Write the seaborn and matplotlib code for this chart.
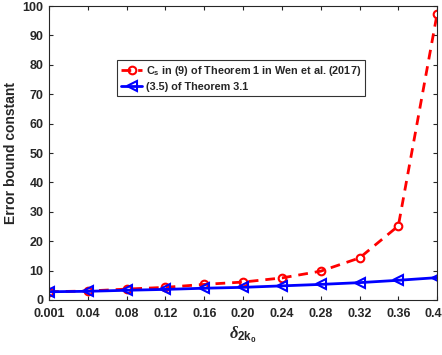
import numpy as np
import pandas as pd
import matplotlib
matplotlib.use("Agg")
import matplotlib.pyplot as plt
import seaborn as sns

delta_labels = ["0.001", "0.04", "0.08", "0.12", "0.16", "0.20", "0.24", "0.28", "0.32", "0.36", "0.40"]
wen_values = [2.8, 3.05, 3.7, 4.3, 5.3, 6.1, 7.5, 9.8, 14.3, 25.2, 97.4]
thm_values = [2.8, 2.95, 3.3, 3.6, 4.0, 4.3, 4.8, 5.3, 5.9, 6.7, 7.6]
series_names = [r"C$_{\mathregular{s}}$ in (9) of Theorem 1 in Wen et al. (2017)", "(3.5) of Theorem 3.1"]

sns.set_theme(style="ticks")
plt.rcParams["font.family"] = ["Liberation Sans", "DejaVu Sans"]
plt.rcParams["font.weight"] = "bold"
plt.rcParams["mathtext.default"] = "regular"
plt.rcParams["mathtext.fontset"] = "custom"
plt.rcParams["mathtext.it"] = "Liberation Serif:italic"
plt.rcParams["mathtext.bf"] = "Liberation Sans:bold"
plt.rcParams["mathtext.rm"] = "Liberation Sans"

pos = np.arange(len(delta_labels))
df = pd.DataFrame({
    "pos": np.concatenate([pos, pos]),
    "value": wen_values + thm_values,
    "series": [series_names[0]] * len(pos) + [series_names[1]] * len(pos),
})

fig = plt.figure(figsize=(4.42, 3.55), dpi=100)
ax = fig.add_axes([0.111, 0.155, 0.878, 0.828])

sns.lineplot(data=df[df.series == series_names[0]], x="pos", y="value", ax=ax,
             color="#ff0000", linestyle=(0, (3.5, 2.5)), linewidth=2, marker="o", markersize=5.5,
             markerfacecolor="none", markeredgecolor="#ff0000", markeredgewidth=1.5,
             label=series_names[0])
sns.lineplot(data=df[df.series == series_names[1]], x="pos", y="value", ax=ax,
             color="#0000ff", linestyle="-", linewidth=2, marker="<", markersize=6.5,
             markerfacecolor="none", markeredgecolor="#0000ff", markeredgewidth=1.5,
             label=series_names[1])

ax.set_xlim(0, len(delta_labels) - 1)
ax.set_ylim(0, 100)
ax.set_xticks(pos)
ax.set_xticklabels(delta_labels)
ax.set_yticks(np.arange(0, 101, 10))
ax.tick_params(direction="in", top=True, right=True, length=3, width=0.8,
               labelsize=9, colors="#262626", pad=4)
ax.tick_params(axis="x", pad=6)
for lab in ax.get_xticklabels() + ax.get_yticklabels():
    lab.set_fontweight("bold")
for sp in ax.spines.values():
    sp.set_linewidth(0.8)
    sp.set_color("#262626")

ax.set_xlabel(r"$\mathit{\delta}_{\mathbf{2k}_{\mathbf{0}}}$", fontsize=12, fontweight="normal",
              color="#262626", labelpad=3)
ax.set_ylabel("Error bound constant", fontsize=10, fontweight="bold", color="#262626", labelpad=3)

leg = ax.legend(loc="upper left", bbox_to_anchor=(0.175, 0.815), frameon=True, fancybox=False,
                edgecolor="black", fontsize=7.8, handlelength=2.0, handletextpad=0.3,
                borderpad=0.35, labelspacing=0.35, borderaxespad=0)
leg.get_frame().set_linewidth(0.8)
for t in leg.get_texts():
    t.set_fontweight("bold")

fig.savefig("out.png", dpi=100)
